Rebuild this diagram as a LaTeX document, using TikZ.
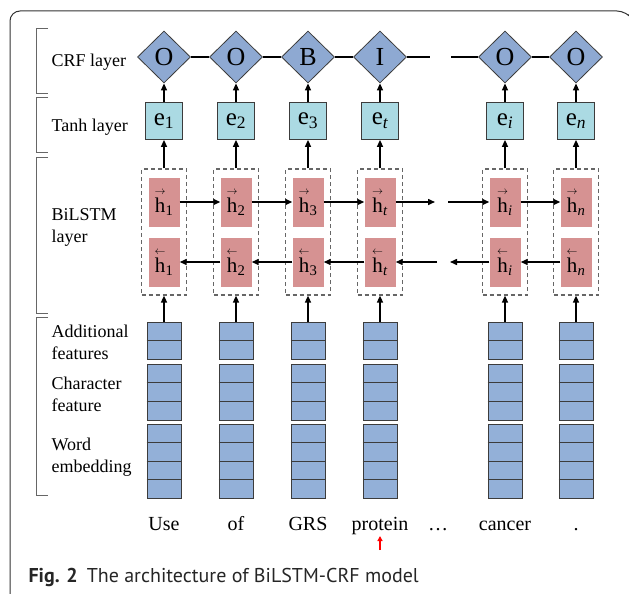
\documentclass[tikz,border=0pt]{standalone}
\usepackage{fontspec}
\usepackage{amsmath}
\setmainfont{Liberation Serif}
\newfontfamily\capfont{PT Sans}
\usetikzlibrary{calc,shapes.geometric,arrows.meta}

\definecolor{tagblue}{RGB}{142,169,210}
\definecolor{tanhcyan}{RGB}{171,218,227}
\definecolor{cellpink}{RGB}{214,146,146}
\definecolor{embblue}{RGB}{147,176,216}
\definecolor{edgegray}{RGB}{60,60,60}

\newcommand{\hright}[1]{$\overset{\scriptscriptstyle\rightarrow}{\text{h}}$\textsubscript{#1}}
\newcommand{\hleft}[1]{$\overset{\scriptscriptstyle\leftarrow}{\text{h}}$\textsubscript{#1}}

\tikzset{
  tag/.style={diamond, draw=edgegray, fill=tagblue, line width=0.8pt, inner sep=0pt,
    minimum width=53pt, minimum height=52pt, font=\fontsize{26}{26}\selectfont},
  tanhbox/.style={rectangle, draw=edgegray, fill=tanhcyan, line width=0.8pt, inner sep=0pt,
    minimum width=37pt, minimum height=37pt, font=\fontsize{25}{25}\selectfont},
  lstmbox/.style={rectangle, draw=black!60, line width=1.2pt, dash pattern=on 4pt off 3pt,
    minimum width=45pt, minimum height=126pt},
  hcell/.style={rectangle, fill=cellpink, minimum width=31pt, minimum height=49pt, inner sep=0pt,
    font=\fontsize{21}{21}\selectfont},
  embcell/.style={rectangle, draw=edgegray, fill=embblue, line width=0.8pt, minimum width=34pt, inner sep=0pt},
  flow/.style={-{Triangle[length=7pt,width=6pt]}, line width=1.5pt},
  bracket/.style={line width=0.8pt, color=black!60},
  side/.style={anchor=west, align=left, font=\fontsize{18}{22}\selectfont},
  word/.style={font=\fontsize{20}{20}\selectfont, text height=14pt, text depth=4pt},
}

\begin{document}
\begin{tikzpicture}[x=1pt, y=-1pt]
		%%%%% START %%%%%
		\useasboundingbox (0, 0) rectangle (629, 594);
		
		\draw[line width=1pt, color=black!80, rounded corners=10pt] (629, 14) -- (627, 11) -- (10, 11) -- (10, 600);
		
		% layer brackets
		\foreach \top/\bot in {28/93, 97/152, 157/313, 317/495}
			\draw[bracket] (48, \top) -- (36, \top) -- (36, \bot) -- (48, \bot);
		
		\node[side] (lcrf) at (48, 62) {CRF layer};
		\node[side] (ltanh) at (48, 127) {Tanh layer};
		\node[side] (lbilstm) at (48, 227) {BiLSTM\\layer};
		\node[side] (ladd) at (48, 342) {Additional\\features};
		\node[side] (lchar) at (48, 394) {Character\\feature};
		\node[side] (lword) at (48, 457) {Word\\embedding};
		
		% one column per token
		\foreach \ix/\xc/\lab/\subs/\tok in {1/164/O/1/Use, 2/236/O/2/of, 3/308/B/3/GRS,
			4/380/I/{\itshape t}/protein, 5/505/O/{\itshape i}/cancer, 6/576/O/{\itshape n}/.} {
			\node[tag] (tag\ix) at (\xc, 57) {\lab};
			\node[tanhbox] (e\ix) at (\xc, 121) {e\textsubscript{\subs}};
			\node[lstmbox] (lstm\ix) at (\xc, 232) {};
			\node[hcell] (fw\ix) at (\xc, 202) {\hright{\subs}};
			\node[hcell] (bw\ix) at (\xc, 262) {\hleft{\subs}};
			
			\node[embcell, minimum height=37pt] (add\ix) at (\xc, 340.5) {};
			\node[embcell, minimum height=56pt] (char\ix) at (\xc, 392) {};
			\node[embcell, minimum height=74pt] (word\ix) at (\xc, 461) {};
			\draw[edgegray, line width=0.8pt] (add\ix.west) -- (add\ix.east);
			\foreach \f in {0.3333, 0.6667}
				\draw[edgegray, line width=0.8pt] ($(char\ix.north west)!\f!(char\ix.south west)$) -- ($(char\ix.north east)!\f!(char\ix.south east)$);
			\foreach \f in {0.25, 0.5, 0.75}
				\draw[edgegray, line width=0.8pt] ($(word\ix.north west)!\f!(word\ix.south west)$) -- ($(word\ix.north east)!\f!(word\ix.south east)$);
			
			\node[word] (w\ix) at (\xc, 525) {\tok};
			
			\draw[flow] (add\ix.north) -- (lstm\ix.south);
			\draw[flow] (lstm\ix.north) -- (e\ix.south);
			\draw[flow] (e\ix.north) -- (tag\ix.south);
		}
		
		% chain links
		\foreach \a/\b in {1/2, 2/3, 3/4, 5/6} {
			\draw[line width=1.2pt] (tag\a.east) -- (tag\b.west);
			\draw[flow] (fw\a.east) -- (fw\b.west);
			\draw[flow] (bw\b.west) -- (bw\a.east);
		}
		
		\coordinate (crfcut1) at (430, 57);
		\coordinate (crfcut2) at (451, 57);
		\draw[line width=1.2pt] (tag4.east) -- (crfcut1);
		\draw[line width=1.2pt] (crfcut2) -- (tag5.west);
		
		\coordinate (fwcut1) at (435, 202);
		\coordinate (fwcut2) at (448, 202);
		\draw[flow] (fw4.east) -- (fwcut1);
		\draw[flow] (fwcut2) -- (fw5.west);
		
		\coordinate (bwcut1) at (437, 262);
		\coordinate (bwcut2) at (450, 262);
		\draw[flow] (bwcut1) -- (bw4.east);
		\draw[flow] (bw5.west) -- (bwcut2);
		
		\node[word] (wdots) at (438, 525) {\dots};
		
		\coordinate (redtail) at (380, 550);
		\coordinate (redtip) at (380, 536);
		\draw[-{Triangle[length=5pt,width=5pt]}, red, line width=1.5pt] (redtail) -- (redtip);
		
		\node[anchor=base west, font=\capfont\fontsize{20}{20}\selectfont, color=black!85] (caption) at (25, 582)
			{\textbf{Fig. 2}\hspace{0.45em}The architecture of BiLSTM-CRF model};
		
		%%%%% END %%%%%
	\end{tikzpicture}
\end{document}
